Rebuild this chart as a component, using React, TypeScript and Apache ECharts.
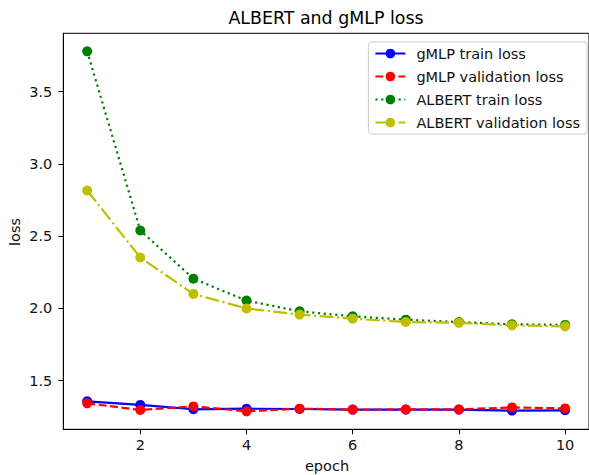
import React, { useEffect, useRef } from "react";
import * as echarts from "echarts";

const epochs = [1, 2, 3, 4, 5, 6, 7, 8, 9, 10];
const gmlpTrain = [1.357, 1.332, 1.302, 1.306, 1.304, 1.300, 1.300, 1.300, 1.293, 1.295];
const gmlpVal = [1.343, 1.297, 1.322, 1.288, 1.306, 1.300, 1.301, 1.301, 1.315, 1.308];
const albertTrain = [3.779, 2.539, 2.206, 2.054, 1.980, 1.945, 1.922, 1.906, 1.890, 1.886];
const albertVal = [2.816, 2.352, 2.100, 2.000, 1.957, 1.929, 1.906, 1.900, 1.883, 1.876];
const xTicks = [2, 4, 6, 8, 10];
const yTicks = [1.5, 2.0, 2.5, 3.0, 3.5];

const FONT = "'DejaVu Sans'";

export default function App() {
  const ref = useRef<HTMLDivElement>(null);
  useEffect(() => {
    if (!ref.current) return;
    const chart = echarts.init(ref.current, null, { renderer: "svg" });
    const all = [...gmlpTrain, ...gmlpVal, ...albertTrain, ...albertVal];
    const lo = Math.min(...all);
    const hi = Math.max(...all);
    const pad = (hi - lo) * 0.05;
    const mk = (name: string, data: number[], color: string, type: any, z: number) => ({
      name,
      type: "line",
      data: epochs.map((e, i) => [e, data[i]]),
      symbol: "circle",
      symbolSize: 10,
      showSymbol: true,
      z,
      itemStyle: { color },
      lineStyle: { color, width: 2.2, type },
    });
    chart.setOption({
      animation: false,
      backgroundColor: "#fff",
      textStyle: { fontFamily: FONT },
      grid: {
        left: 63.3,
        top: 33.3,
        width: 530,
        height: 396,
        show: true,
        borderColor: "#000",
        borderWidth: 1,
        backgroundColor: "transparent",
      },
      xAxis: {
        type: "value",
        min: 0.55,
        max: 10.45,
        axisLine: { show: true, lineStyle: { color: "#000", width: 1 } },
        axisTick: { show: true, length: 5, customValues: xTicks, lineStyle: { color: "#000" } },
        axisLabel: {
          customValues: xTicks,
          color: "#111",
          fontSize: 14.5,
          fontFamily: FONT,
          margin: 8,
          formatter: (v: number) => String(v),
        },
        splitLine: { show: false },
      },
      yAxis: {
        type: "value",
        min: lo - pad,
        max: hi + pad,
        axisLine: { show: true, lineStyle: { color: "#000", width: 1 } },
        axisTick: { show: true, length: 5, customValues: yTicks, lineStyle: { color: "#000" } },
        axisLabel: {
          customValues: yTicks,
          color: "#111",
          fontSize: 14.5,
          fontFamily: FONT,
          margin: 11,
          formatter: (v: number) => v.toFixed(1),
        },
        splitLine: { show: false },
      },
      legend: {
        orient: "vertical",
        right: 2,
        top: 42,
        padding: [4, 7, 4, 6],
        itemWidth: 30,
        itemHeight: 12,
        itemGap: 8,
        borderColor: "#ccc",
        borderWidth: 1,
        borderRadius: 3,
        backgroundColor: "rgba(255,255,255,0.8)",
        textStyle: { color: "#111", fontSize: 14.5, fontFamily: FONT, padding: [0, 0, 0, 6] },
        data: ["gMLP train loss", "gMLP validation loss", "ALBERT train loss", "ALBERT validation loss"],
      },
      graphic: [
        {
          type: "text",
          x: 326,
          y: 18,
          style: { text: "ALBERT and gMLP loss", fill: "#000", font: `17.4px ${FONT}`, textAlign: "center", textVerticalAlign: "middle" },
        },
        {
          type: "text",
          x: 327,
          y: 466,
          style: { text: "epoch", fill: "#111", font: `14.5px ${FONT}`, textAlign: "center", textVerticalAlign: "middle" },
        },
        {
          type: "text",
          x: 15,
          y: 232,
          rotation: Math.PI / 2,
          style: { text: "loss", fill: "#111", font: `14.5px ${FONT}`, textAlign: "center", textVerticalAlign: "middle" },
        },
      ],
      series: [
        mk("gMLP train loss", gmlpTrain, "#0000ff", "solid", 2),
        mk("gMLP validation loss", gmlpVal, "#ff0000", [8, 3.5], 3),
        mk("ALBERT train loss", albertTrain, "#008000", [2.2, 3.6], 4),
        mk("ALBERT validation loss", albertVal, "#bfbf00", [14, 3.5, 2.2, 3.5], 5),
      ],
    });
    return () => chart.dispose();
  }, []);
  return <div ref={ref} style={{ width: 589, height: 475, position: "absolute", left: 0, top: 0 }} />;
}
